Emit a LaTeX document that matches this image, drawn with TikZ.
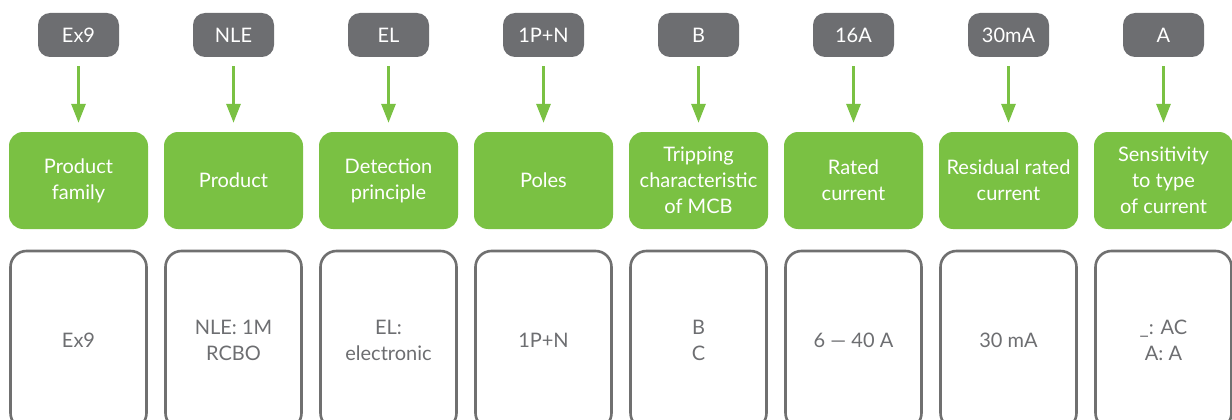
\documentclass[tikz,border=0pt]{standalone}
\usepackage{fontspec}
\setmainfont{Lato}
\usetikzlibrary{arrows.meta}
\definecolor{codegray}{HTML}{6D6E71}
\definecolor{catgreen}{HTML}{7AC143}
\definecolor{boxgray}{HTML}{707070}
\begin{document}
\begin{tikzpicture}[x=1pt,y=-1pt,
every node/.style={font=\fontsize{20}{26}\selectfont,align=center,inner sep=0pt},
codetab/.style={fill=codegray,text=white,rounded corners=12pt,
minimum width=81pt,minimum height=44pt},
catbox/.style={fill=catgreen,text=white,rounded corners=14pt,
minimum width=139pt,minimum height=97pt},
valbox/.style={draw=boxgray,line width=2.6pt,text=codegray,rounded corners=16pt,
minimum width=136pt,minimum height=178pt},
feed/.style={catgreen,line width=3pt,-{Triangle[width=14pt,length=19pt]},
shorten <=9pt,shorten >=9pt}]
\useasboundingbox (0,0) rectangle (1232,420);
\clip (0,0) rectangle (1232,420);
\foreach \i/\code/\cat/\val in {
0/Ex9/{Product\\family}/Ex9,
1/NLE/Product/{NLE: 1M\\RCBO},
2/EL/{Detection\\principle}/{EL:\\electronic},
3/1P+N/Poles/1P+N,
4/B/{Tripping\\characteristic\\of MCB}/{B\\C},
5/16A/{Rated\\current}/{6 — 40 A},
6/30mA/{Residual rated\\current}/30 mA,
7/A/{Sensitivity\\to type\\of current}/{\_: AC\\A: A}}
{
\node[codetab] (tab\i) at (78.5+155*\i,35) {\code};
\node[catbox] (cat\i) at (78.5+155*\i,180.5) {\cat};
\node[valbox] (val\i) at (78.5+155*\i,340) {\val};
\draw[feed] (tab\i) -- (cat\i);
}
\end{tikzpicture}
\end{document}
